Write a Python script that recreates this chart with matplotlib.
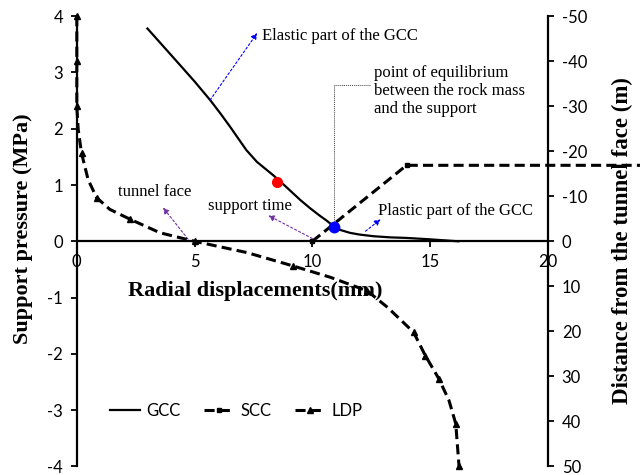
import matplotlib
matplotlib.use("Agg")
import matplotlib.pyplot as plt

plt.rcParams["axes.unicode_minus"] = False

# ground reaction curve (displacement mm, pressure MPa)
gcc_x = [3.0, 4.3, 5.0, 5.66, 6.1, 6.5, 6.9, 7.2, 7.65, 8.0, 8.35, 8.7, 9.06, 9.5, 9.9,
         10.3, 10.6, 10.9, 11.2, 11.6, 12.0, 12.6, 13.3, 14.0, 15.0, 16.2]
gcc_y = [3.78, 3.17, 2.84, 2.51, 2.27, 2.04, 1.80, 1.62, 1.41, 1.29, 1.17, 1.04, 0.90, 0.73, 0.59,
         0.46, 0.37, 0.27, 0.20, 0.15, 0.12, 0.09, 0.07, 0.06, 0.035, 0.0]

# support characteristic curve
scc_x = [10.0, 14.0, 24.0]
scc_y = [0.0, 1.35, 1.35]

# longitudinal displacement profile (displacement mm, distance to face m)
ldp_x = [0.0, 0.0, 0.0, 0.06, 0.2, 0.48, 0.84, 1.4, 2.26, 3.53, 5.0, 7.22, 9.2,
         10.77, 12.33, 13.2, 14.3, 14.8, 15.37, 15.8, 16.09, 16.23]
ldp_d = [-50, -40, -30, -24.8, -19.6, -13.7, -9.7, -7.1, -4.9, -1.9, 0, 2.5, 5.5,
         8.0, 11.0, 14.7, 20.2, 25.4, 30.5, 35.3, 40.5, 50]
ldp_marks = [0, 1, 2, 4, 6, 8, 10, 12, 14, 16, 17, 18, 20, 21]

support_time = (8.5, 1.05)
equilibrium = (10.9, 0.25)

x_ticks = [0, 5, 10, 15, 20]
y_ticks = [-4, -3, -2, -1, 0, 1, 2, 3, 4]
d_ticks = [-50, -40, -30, -20, -10, 0, 10, 20, 30, 40, 50]

tick_font = "Lato"
serif = "Liberation Serif"

fig = plt.figure(figsize=(6.4, 4.75), dpi=100)
ax = fig.add_axes([0.120, 0.018, 0.736, 0.948])
ax2 = ax.twinx()

ax.set_xlim(0, 20)
ax.set_ylim(-4, 4)
ax2.set_ylim(50, -50)

dash = (3.3, 1.7)
l1, = ax.plot(gcc_x, gcc_y, color="black", lw=1.6, label="GCC", zorder=3)
l2, = ax.plot(scc_x, scc_y, color="black", lw=2.2, dashes=dash, marker="s",
              ms=3.5, markevery=[0, 1], clip_on=False, label="SCC", zorder=3)
l3, = ax2.plot(ldp_x, ldp_d, color="black", lw=2.2, dashes=dash, marker="^",
               ms=4.5, markevery=ldp_marks, clip_on=False, label="LDP")

ax.plot(*support_time, "o", color="red", ms=7, zorder=4)
ax.plot(*equilibrium, "o", color="blue", ms=7.5, zorder=4)

# spines
ax.spines["bottom"].set_position(("data", 0))
for s in ["top", "right"]:
    ax.spines[s].set_visible(False)
for s in ["top", "left", "bottom"]:
    ax2.spines[s].set_visible(False)
for s in [ax.spines["left"], ax.spines["bottom"], ax2.spines["right"]]:
    s.set_linewidth(1.6)

ax.set_xticks(x_ticks)
ax.set_yticks(y_ticks)
ax2.set_yticks(d_ticks)
ax.tick_params(axis="both", direction="out", length=4, width=1.3, labelsize=12)
ax.tick_params(axis="x", pad=5)
ax.tick_params(axis="y", pad=6)
ax2.tick_params(axis="y", direction="out", length=4, width=1.3, labelsize=12, pad=6)
for lab in ax.get_xticklabels() + ax.get_yticklabels() + ax2.get_yticklabels():
    lab.set_fontfamily(tick_font)

ax.set_ylabel("Support pressure (MPa)", fontfamily=serif, fontweight="bold", fontsize=16)
ax.yaxis.set_label_coords(-0.093, 0.527)
ax2.set_ylabel("Distance from the tunnel face (m)", fontfamily=serif, fontweight="bold", fontsize=16.5)
ax2.yaxis.set_label_coords(1.135, 0.502)
ax.text(7.57, -0.97, "Radial displacements(mm)", fontfamily=serif, fontweight="bold",
        fontsize=16, ha="center", va="baseline")

# annotations
blue_arrow = dict(arrowstyle="-|>", color="blue", lw=0.8, ls=(0, (2, 2)), mutation_scale=9,
                  shrinkA=0, shrinkB=0)
purple_arrow = dict(arrowstyle="-|>", color="#7030A0", lw=0.8, ls=(0, (2, 2)), mutation_scale=9,
                    shrinkA=0, shrinkB=0)

ax.annotate("", xy=(7.66, 3.70), xytext=(5.66, 2.51), arrowprops=blue_arrow)
ax.text(7.87, 3.65, "Elastic part of the GCC", fontfamily=serif, fontsize=12, va="center")

ax.annotate("", xy=(12.9, 0.39), xytext=(12.26, 0.18), arrowprops=blue_arrow)
ax.text(12.8, 0.53, "Plastic part of the GCC", fontfamily=serif, fontsize=12, va="center")

ax.annotate("", xy=(8.13, 0.46), xytext=(10.0, 0.05), arrowprops=purple_arrow)
ax.text(5.57, 0.62, "support time", fontfamily=serif, fontsize=12, va="center")

ax.annotate("", xy=(3.66, 0.60), xytext=(4.72, 0.04), arrowprops=purple_arrow)
ax.text(1.74, 0.88, "tunnel face", fontfamily=serif, fontsize=12, va="center")

ax.plot([equilibrium[0], equilibrium[0], 12.47], [equilibrium[1], 2.78, 2.78],
        color="#404040", lw=0.7, ls=(0, (1, 1)), zorder=2)
ax.text(12.6, 3.14, "point of equilibrium\nbetween the rock mass\nand the support",
        fontfamily=serif, fontsize=12, va="top", linespacing=1.17)

leg = ax.legend(handles=[l1, l2, l3], loc="center left", ncol=3, frameon=False,
                handlelength=1.8, columnspacing=1.4, handletextpad=0.4,
                borderpad=0, borderaxespad=0, prop={"family": tick_font, "size": 12})
leg.set_bbox_to_anchor((0.07, 0.124), transform=ax.transAxes)

fig.savefig("out.png", dpi=100)
